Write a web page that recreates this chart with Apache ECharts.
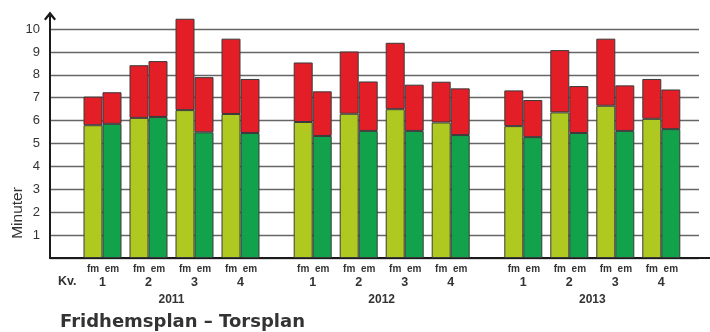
<!DOCTYPE html>
<html>
<head>
<meta charset="utf-8">
<script src="https://cdn.jsdelivr.net/npm/echarts@6/dist/echarts.min.js"></script>
<style>
  html, body { margin: 0; padding: 0; background: #fff; }
  #chart { width: 710px; height: 332px; }
</style>
</head>
<body>
<div id="chart"></div>
<script>
// Restid (minuter) per kvartal, Fridhemsplan – Torsplan
const years = ['2011', '2012', '2013'];
const quarters = ['1', '2', '3', '4'];

// fm = förmiddag, em = eftermiddag; base = grön del, total = hela stapeln
const fmBase  = [[5.80, 6.12, 6.46, 6.29], [5.94, 6.30, 6.50, 5.92], [5.76, 6.36, 6.65, 6.08]];
const fmTotal = [[7.05, 8.42, 10.45, 9.58], [8.54, 9.02, 9.40, 7.70], [7.32, 9.08, 9.58, 7.82]];
const emBase  = [[5.86, 6.16, 5.49, 5.46], [5.33, 5.55, 5.55, 5.37], [5.28, 5.46, 5.55, 5.63]];
const emTotal = [[7.24, 8.60, 7.90, 7.82], [7.28, 7.71, 7.57, 7.41], [6.90, 7.51, 7.54, 7.36]];

const yTicks = ['1', '2', '3', '4', '5', '6', '7', '8', '9', '10'];

const FONT = '"Liberation Sans", Arial, sans-serif';
const TITLE_FONT = '"DejaVu Sans", Verdana, sans-serif';
const TEXT = '#333';
const C_FM = '#afc920';
const C_EM = '#13a24c';
const C_RED = '#e31e26';
const EDGE = '#3a3a3a';

// shared vertical scale: value axis ends a little above 10 (arrow tip)
const Y_MAX = 10.57;
const AXIS_TOP = 16, PLOT_TOP = 29, PLOT_BOTTOM = 74;
const yearLefts = [79.5, 289.7, 500.3];
const yearWidth = 184;

const grids = [
  { left: 50, right: 0, top: AXIS_TOP, bottom: PLOT_BOTTOM },     // axes with arrow
  { left: 50, right: 11, top: PLOT_TOP, bottom: PLOT_BOTTOM }     // horizontal grid lines
];
yearLefts.forEach(l => grids.push({ left: l, width: yearWidth, top: AXIS_TOP, bottom: PLOT_BOTTOM }));

const xAxes = [
  { gridIndex: 0, type: 'value', min: 0, max: 1, splitLine: { show: false }, axisTick: { show: false },
    axisLabel: { show: false }, axisLine: { show: true, lineStyle: { color: '#1a1a1a', width: 2 } } },
  { gridIndex: 1, type: 'value', min: 0, max: 1, show: false }
];
const yAxes = [
  { gridIndex: 0, type: 'value', min: 0, max: Y_MAX, interval: 1,
    splitLine: { show: false }, axisTick: { show: false },
    axisLine: { show: true, lineStyle: { color: '#1a1a1a', width: 2 },
      symbol: ['none', 'path://M6,0 L12,7.6 L10.4,9 L6,3.9 L1.6,9 L0,7.6 Z'], symbolSize: [12, 10] },
    axisLabel: { margin: 10, color: TEXT, fontSize: 13, fontFamily: FONT,
      formatter: v => yTicks.includes(String(v)) ? String(v) : '' } },
  { gridIndex: 1, type: 'value', min: 0, max: 10, interval: 1,
    axisLine: { show: false }, axisTick: { show: false }, axisLabel: { show: false },
    splitLine: { show: true, lineStyle: { color: '#666', width: 1.4 } } }
];

const labelStyle = { fontSize: 10, fontWeight: 'bold', color: TEXT, fontFamily: FONT, width: 19, align: 'center', lineHeight: 13.5 };
const series = [];

years.forEach((yr, i) => {
  const g = i + 2;
  xAxes.push({
    gridIndex: g, type: 'category', data: quarters,
    axisLine: { show: false }, axisTick: { show: false },
    axisLabel: {
      interval: 0, margin: 4, fontFamily: FONT,
      formatter: q => `{a|fm}{b|em}\n{q|${q}}`,
      rich: {
        a: labelStyle,
        b: labelStyle,
        q: { fontSize: 12.5, fontWeight: 'bold', color: TEXT, fontFamily: FONT, width: 38, align: 'center', lineHeight: 13.5 }
      }
    },
    name: yr, nameLocation: 'middle', nameGap: 32,
    nameTextStyle: { fontSize: 12, fontWeight: 'bold', color: TEXT, fontFamily: FONT }
  });
  yAxes.push({ gridIndex: g, type: 'value', min: 0, max: Y_MAX, show: false, splitLine: { show: false } });

  const bar = (name, stack, data, color) => ({
    type: 'bar', name, stack: stack + yr, xAxisIndex: g, yAxisIndex: g,
    barWidth: 19, barGap: '0%', data,
    itemStyle: { color, borderColor: EDGE, borderWidth: 1 },
    emphasis: { disabled: true }, animation: false
  });
  const diff = (tot, base) => tot.map((t, k) => +(t - base[k]).toFixed(2));

  series.push(bar('fm', 'fm', fmBase[i], C_FM));
  series.push(bar('fm-red', 'fm', diff(fmTotal[i], fmBase[i]), C_RED));
  series.push(bar('em', 'em', emBase[i], C_EM));
  series.push(bar('em-red', 'em', diff(emTotal[i], emBase[i]), C_RED));
});

const chart = echarts.init(document.getElementById('chart'), null, { renderer: 'canvas' });
chart.setOption({
  animation: false,
  backgroundColor: '#fff',
  title: {
    text: 'Fridhemsplan – Torsplan', left: 55, top: 308,
    textStyle: { fontSize: 18, fontWeight: 'bold', color: TEXT, fontFamily: TITLE_FONT }
  },
  grid: grids,
  xAxis: xAxes,
  yAxis: yAxes,
  series,
  graphic: [
    { type: 'text', x: 18, y: 213, rotation: Math.PI / 2,
      style: { text: 'Minuter', fontSize: 15.5, fontFamily: FONT, fill: TEXT, align: 'center', verticalAlign: 'middle' } },
    { type: 'text', x: 58, y: 282,
      style: { text: 'Kv.', fontSize: 12.5, fontWeight: 'bold', fontFamily: FONT, fill: TEXT, align: 'left', verticalAlign: 'middle' } }
  ]
});
</script>
</body>
</html>
